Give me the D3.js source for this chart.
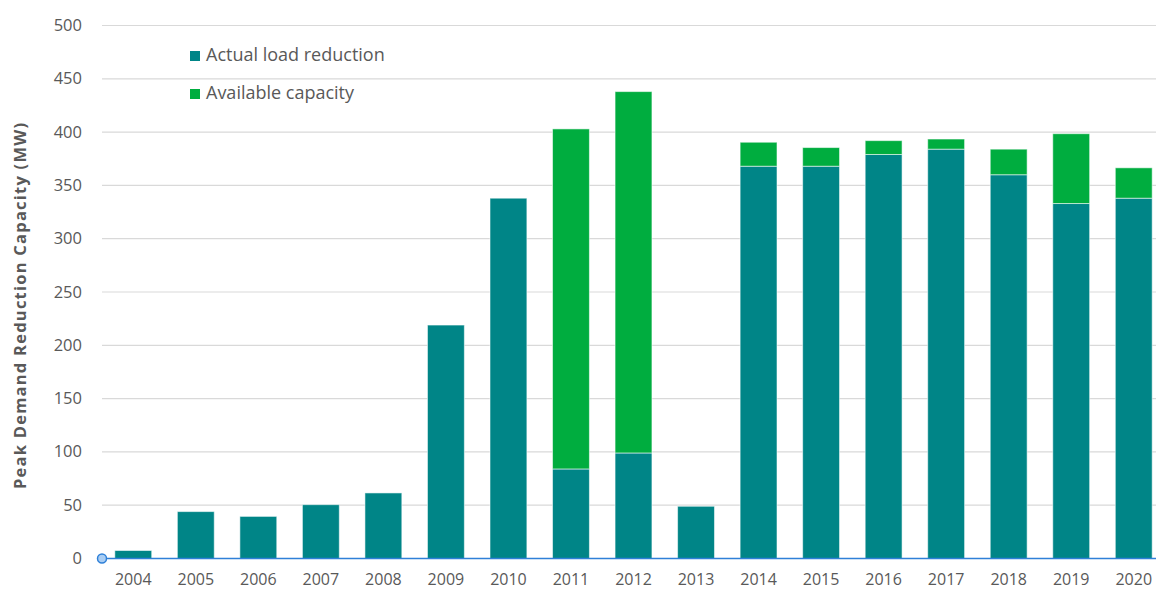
<!DOCTYPE html>
<html><head><meta charset="utf-8">
<script src="https://cdn.jsdelivr.net/npm/d3@7/dist/d3.min.js"></script>
<style>body{margin:0;background:#fff;}svg{display:block;}</style>
</head><body>
<svg id="c" width="1156" height="591"></svg>
<script>
const years = ["2004","2005","2006","2007","2008","2009","2010","2011","2012","2013","2014","2015","2016","2017","2018","2019","2020"];
const actual = [7.5,44,39.5,50.5,61.5,219,338,84,99,49,368,368,379,384,360,333,338];
const available = [0,0,0,0,0,0,0,319,339,0,22.5,17.5,13,9.5,24,65.5,28.5];
const yTicks = [0,50,100,150,200,250,300,350,400,450,500];
const seriesNames = ["Actual load reduction","Available capacity"];
const colors = ["#008587","#00ad3f"];

const svg = d3.select("#c");
const font = "'Open Sans', sans-serif";
const x = d3.scaleBand().domain(years).range([102,1165]).paddingInner(0.41).paddingOuter(0.205);
const y = d3.scaleLinear().domain([0,500]).range([558.5,25.5]);

// gridlines
svg.append("g").selectAll("line").data(yTicks.filter(d=>d>0)).join("line")
  .attr("x1",102).attr("x2",1156).attr("y1",d=>y(d)).attr("y2",d=>y(d))
  .attr("stroke","#d9d9d9").attr("stroke-width",1.2);

// y tick labels
svg.append("g").selectAll("text").data(yTicks).join("text")
  .attr("x",82).attr("y",d=>y(d)+5.5).attr("text-anchor","end")
  .attr("font-family",font).attr("font-size",16.5).attr("fill","#595959").text(d=>d);

// stacked bars
const rows = years.map((yr,i)=>({year:yr, a:actual[i], b:available[i]}));
const stack = d3.stack().keys(["a","b"])(rows);
svg.append("g").selectAll("g").data(stack).join("g")
  .attr("fill",(d,i)=>colors[i])
  .selectAll("rect").data(d=>d.filter(p=>p[1]-p[0]>0)).join("rect")
  .attr("x",d=>x(d.data.year)).attr("width",x.bandwidth())
  .attr("y",d=>y(d[1])).attr("height",d=>y(d[0])-y(d[1]))
  .attr("stroke","rgba(255,255,255,0.55)").attr("stroke-width",1);

// axis line
svg.append("line").attr("x1",102).attr("x2",1156).attr("y1",y(0)).attr("y2",y(0))
  .attr("stroke","#2f80d8").attr("stroke-width",1.5);
svg.append("circle").attr("cx",102).attr("cy",y(0)).attr("r",4.5)
  .attr("fill","#a9cdf3").attr("stroke","#2f80d8").attr("stroke-width",1.5);

// x labels
svg.append("g").selectAll("text").data(years).join("text")
  .attr("x",d=>x(d)+x.bandwidth()/2).attr("y",585).attr("text-anchor","middle")
  .attr("font-family",font).attr("font-size",16).attr("fill","#595959").text(d=>d);

// y title
svg.append("text").attr("transform","translate(26,306) rotate(-90)")
  .attr("text-anchor","middle").attr("font-family",font).attr("font-size",16.5)
  .attr("font-weight","bold").attr("fill","#595959")
  .attr("textLength",366).attr("lengthAdjust","spacing")
  .text("Peak Demand Reduction Capacity (MW)");

// legend
const lg = svg.append("g").selectAll("g").data(seriesNames).join("g")
  .attr("transform",(d,i)=>`translate(190,${51+i*38})`);
lg.append("rect").attr("width",10).attr("height",10).attr("fill",(d,i)=>colors[i]);
lg.append("text").attr("x",16).attr("y",9.5).attr("font-family",font).attr("font-size",18)
  .attr("fill","#595959").text(d=>d);
</script>
</body></html>
